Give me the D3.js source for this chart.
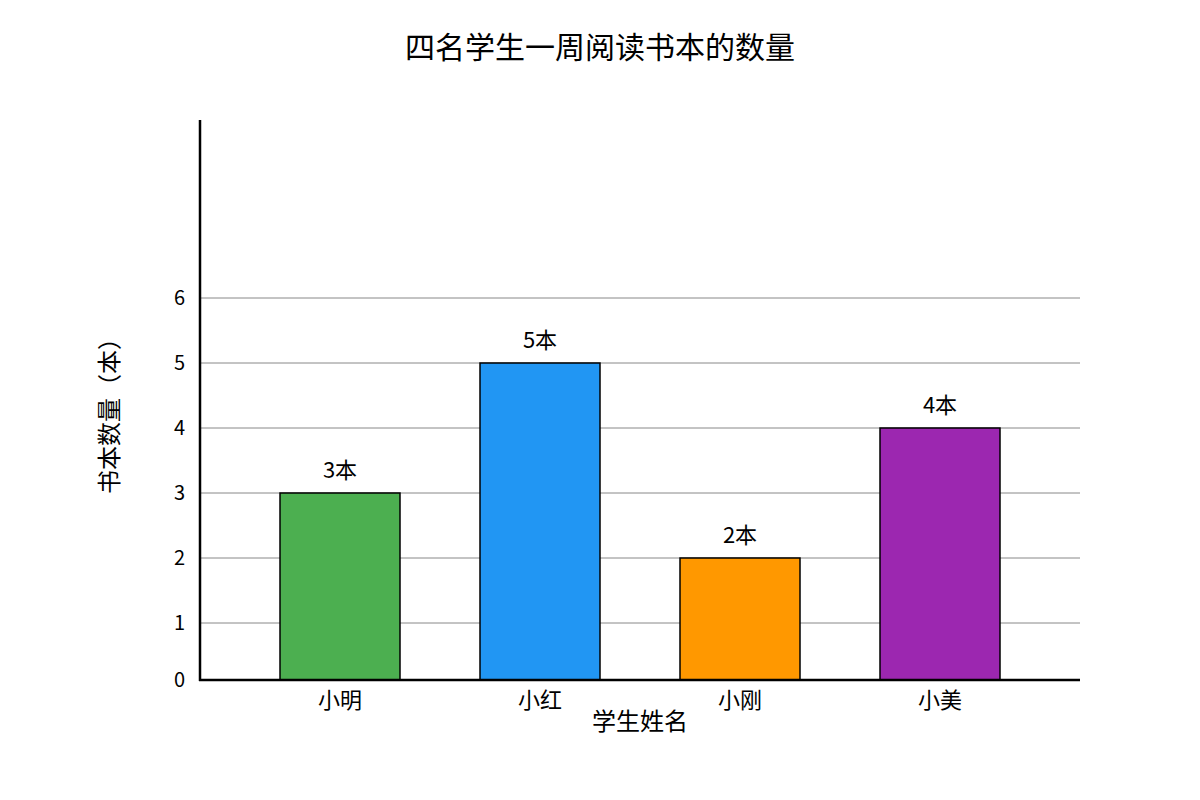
<!DOCTYPE html>
<html>
<head>
<meta charset="utf-8">
<script src="https://cdn.jsdelivr.net/npm/d3@7"></script>
<style>
  body { margin: 0; background: #fff; }
  text { font-family: "Noto Sans CJK SC", "Noto Sans", sans-serif; fill: #000; }
</style>
</head>
<body>
<script>
// chart data
var students = ["小明", "小红", "小刚", "小美"];
var books = [3, 5, 2, 4];
var barColors = ["#4caf50", "#2196f3", "#ff9800", "#9c27b0"];
var yTicks = [1, 2, 3, 4, 5, 6];

var width = 1200, height = 800;
var svg = d3.select("body").append("svg")
    .attr("width", width).attr("height", height);

var baseY = 680;
var x = d3.scaleBand().domain(students).range([240, 1040])
    .paddingInner(0.4).paddingOuter(0.2);
var y = d3.scaleLinear().domain([0, 6]).range([688, 298]);

// gridlines
svg.selectAll(".grid").data(yTicks).enter().append("line")
    .attr("x1", 200).attr("x2", 1080)
    .attr("y1", function(d){ return y(d); })
    .attr("y2", function(d){ return y(d); })
    .attr("stroke", "#888").attr("stroke-width", 1);

// y tick labels
svg.selectAll(".ylab").data([0].concat(yTicks)).enter().append("text")
    .attr("x", 185)
    .attr("y", function(d){ return d === 0 ? baseY : y(d); })
    .attr("dy", "0.35em")
    .attr("text-anchor", "end")
    .attr("font-size", 20)
    .text(function(d){ return d; });

// bars
svg.selectAll(".bar").data(books).enter().append("rect")
    .attr("x", function(d, i){ return x(students[i]); })
    .attr("width", x.bandwidth())
    .attr("y", function(d){ return y(d); })
    .attr("height", function(d){ return baseY - y(d); })
    .attr("fill", function(d, i){ return barColors[i]; })
    .attr("stroke", "#000").attr("stroke-width", 1.5);

// value labels
svg.selectAll(".val").data(books).enter().append("text")
    .attr("x", function(d, i){ return x(students[i]) + x.bandwidth() / 2; })
    .attr("y", function(d){ return y(d) - 15; })
    .attr("text-anchor", "middle")
    .attr("font-size", 22)
    .text(function(d){ return d + "本"; });

// x category labels
svg.selectAll(".xlab").data(students).enter().append("text")
    .attr("x", function(d){ return x(d) + x.bandwidth() / 2; })
    .attr("y", 708)
    .attr("text-anchor", "middle")
    .attr("font-size", 22)
    .text(function(d){ return d; });

// axes lines
svg.append("line").attr("x1", 200).attr("x2", 200).attr("y1", 120).attr("y2", baseY + 1)
    .attr("stroke", "#000").attr("stroke-width", 2.5);
svg.append("line").attr("x1", 199).attr("x2", 1080).attr("y1", baseY).attr("y2", baseY)
    .attr("stroke", "#000").attr("stroke-width", 2.5);

// titles
svg.append("text").attr("x", 600).attr("y", 58).attr("text-anchor", "middle")
    .attr("font-size", 30).text("四名学生一周阅读书本的数量");
svg.append("text").attr("x", 640).attr("y", 730).attr("text-anchor", "middle")
    .attr("font-size", 24).text("学生姓名");
svg.append("text").attr("transform", "translate(118,410) rotate(-90)")
    .attr("text-anchor", "middle").attr("font-size", 24).text("书本数量（本）");
</script>
</body>
</html>
